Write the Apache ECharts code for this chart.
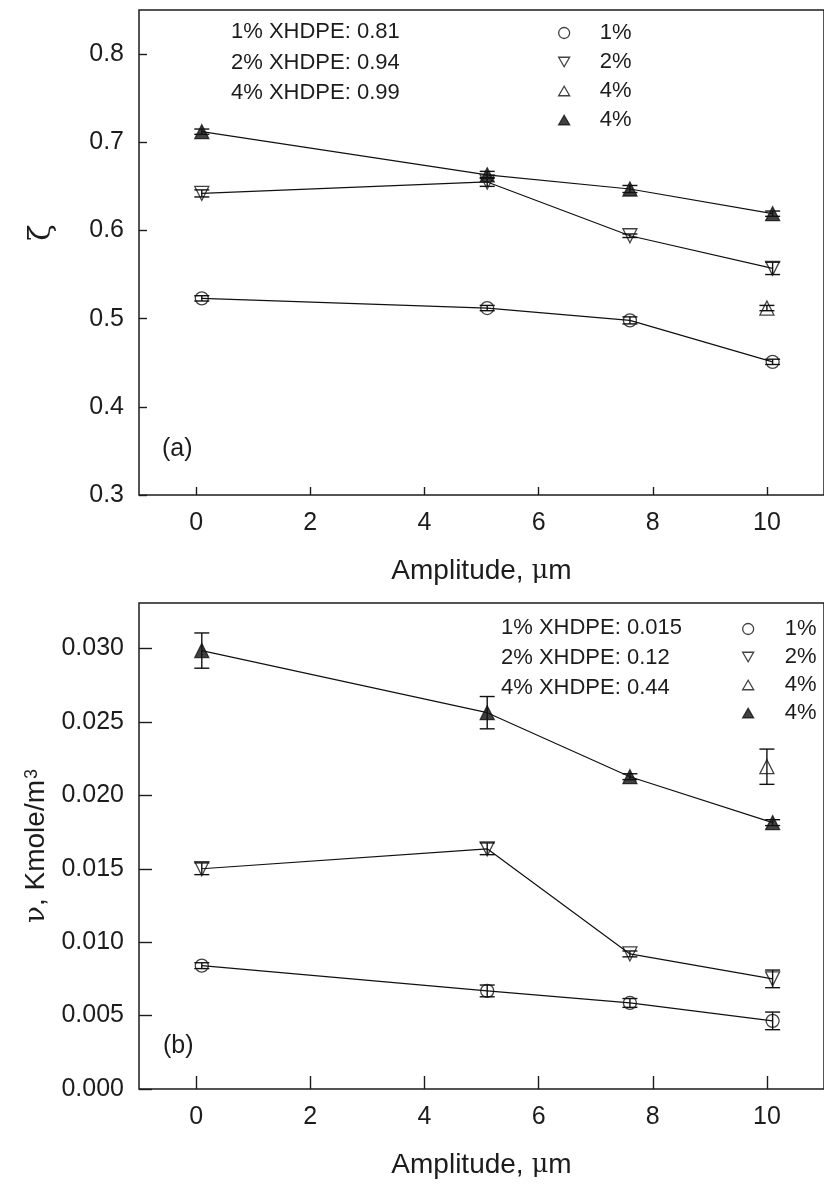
<!DOCTYPE html>
<html>
<head>
<meta charset="utf-8">
<script src="https://cdn.jsdelivr.net/npm/echarts@6/dist/echarts.min.js"></script>
<style>
  html, body { margin: 0; padding: 0; background: #ffffff; }
  #chart { width: 824px; height: 1192px; }
</style>
</head>
<body>
<div id="chart"></div>
<script>
// Vibration amplitude (µm) of the measured points
const amplitude = [0.1, 5.1, 7.6, 10.1];
const amplitudeSingle = [10.0];

// Axis tick values
const xTicks = [0, 2, 4, 6, 8, 10];
const zetaTicks = [0.3, 0.4, 0.5, 0.6, 0.7, 0.8];
const nuTicks = [0.000, 0.005, 0.010, 0.015, 0.020, 0.025, 0.030];

// Panel (a): zeta
const zeta1 = [0.523, 0.512, 0.498, 0.451];
const zeta1Err = [0.003, 0.003, 0.004, 0.003];
const zeta2 = [0.642, 0.655, 0.594, 0.557];
const zeta2Err = [0.004, 0.005, 0.002, 0.007];
const zeta4Open = [0.512];
const zeta4OpenErr = [0.003];
const zeta4Filled = [0.712, 0.663, 0.647, 0.619];
const zeta4FilledErr = [0.003, 0.004, 0.004, 0.003];

// Panel (b): crosslink density nu, Kmole/m3
const nu1 = [0.0084, 0.00668, 0.00586, 0.00464];
const nu1Err = [0.0002, 0.0004, 0.0003, 0.0006];
const nu2 = [0.0150, 0.01636, 0.0092, 0.0075];
const nu2Err = [0.0004, 0.0004, 0.0002, 0.0006];
const nu4Open = [0.02195];
const nu4OpenErr = [0.0012];
const nu4Filled = [0.02986, 0.02563, 0.02127, 0.01814];
const nu4FilledErr = [0.0012, 0.0011, 0.0002, 0.0002];

// Annotation text
const zetaNotes = ['1% XHDPE: 0.81', '2% XHDPE: 0.94', '4% XHDPE: 0.99'];
const nuNotes = ['1% XHDPE: 0.015', '2% XHDPE: 0.12', '4% XHDPE: 0.44'];
const legendKeys = ['c1', 'c2', 'c4o', 'c4f'];
const legendLabels = { c1: '1%', c2: '2%', c4o: '4%', c4f: '4%' };

const FONT = '"Liberation Sans", Arial, Helvetica, sans-serif';
const GREEK = '"DejaVu Serif", "Liberation Serif", serif';
const INK = '#1c1c1c';

// legend glyphs: open circle, open down-triangle, open up-triangle, filled up-triangle
const DOWN_TRI = 'path://M0,0 L10,0 L5,8.66 Z';
const UP_TRI = 'path://M5,0 L10,8.66 L0,8.66 Z';
const legendIcons = { c1: 'circle', c2: DOWN_TRI, c4o: UP_TRI, c4f: UP_TRI };
const legendFill = { c1: false, c2: false, c4o: false, c4f: true };

function pairs(xs, ys) { return xs.map((x, i) => [x, ys[i]]); }
function bars(xs, ys, es) { return xs.map((x, i) => [x, ys[i] - es[i], ys[i] + es[i]]); }

function errorBarSeries(xi, data) {
  return {
    type: 'custom', xAxisIndex: xi, yAxisIndex: xi, silent: true, z: 4,
    encode: { x: 0, y: [1, 2] },
    data: data,
    renderItem: function (params, api) {
      const x = api.value(0);
      const lo = api.coord([x, api.value(1)]);
      const hi = api.coord([x, api.value(2)]);
      const w = 7.5;
      const st = { stroke: '#111', lineWidth: 1.4 };
      return {
        type: 'group',
        children: [
          { type: 'line', shape: { x1: lo[0], y1: lo[1], x2: hi[0], y2: hi[1] }, style: st },
          { type: 'line', shape: { x1: lo[0] - w, y1: lo[1], x2: lo[0] + w, y2: lo[1] }, style: st },
          { type: 'line', shape: { x1: hi[0] - w, y1: hi[1], x2: hi[0] + w, y2: hi[1] }, style: st }
        ]
      };
    }
  };
}

function lineSeries(xi, data) {
  return {
    type: 'line', xAxisIndex: xi, yAxisIndex: xi, data: data, symbol: 'none',
    lineStyle: { color: '#111', width: 1.2 }, silent: true, z: 2
  };
}

function markerSeries(xi, name, data, symbol, rotate, filled) {
  return {
    type: 'scatter', name: name, xAxisIndex: xi, yAxisIndex: xi, data: data,
    symbol: symbol, symbolSize: symbol === 'circle' ? 13 : 14, symbolRotate: rotate,
    itemStyle: {
      color: filled ? '#111' : 'rgba(255,255,255,0)',
      borderColor: '#111', borderWidth: 1.3
    },
    z: 5
  };
}

function legendFor(prefix, left, top, gap, pad) {
  return {
    data: legendKeys.map(k => ({
      name: prefix + k,
      icon: legendIcons[k],
      itemStyle: { color: legendFill[k] ? '#111' : '#ffffff', borderColor: '#111', borderWidth: 1.3 }
    })),
    formatter: n => legendLabels[n.slice(prefix.length)],
    orient: 'vertical', left: left, top: top, itemWidth: 11, itemHeight: 11, itemGap: gap,
    selectedMode: false,
    textStyle: { fontFamily: FONT, fontSize: 22, color: INK, lineHeight: 22, padding: [0, 0, 0, pad] }
  };
}

function xAxisFor(gi) {
  return {
    type: 'value', gridIndex: gi, min: -1, max: 11,
    name: 'Amplitude, {g|μ}m', nameLocation: 'middle', nameGap: 62,
    nameTextStyle: { fontFamily: FONT, fontSize: 28, color: INK,
      rich: { g: { fontFamily: GREEK, fontSize: 26, color: INK } } },
    axisLine: { show: false, onZero: false },
    axisTick: { show: true, inside: true, length: gi === 0 ? 8 : 13, customValues: xTicks,
      lineStyle: { color: INK, width: 1.4 } },
    axisLabel: { customValues: xTicks, fontFamily: FONT, fontSize: 25, color: INK, margin: 16 },
    splitLine: { show: false }
  };
}

const option = {
  animation: false,
  backgroundColor: '#ffffff',
  grid: [
    { left: 139, top: 10, width: 693, height: 485, show: true, borderColor: INK, borderWidth: 1.5 },
    { left: 139, top: 603, width: 693, height: 486, show: true, borderColor: INK, borderWidth: 1.5 }
  ],
  xAxis: [xAxisFor(0), xAxisFor(1)],
  yAxis: [
    {
      type: 'value', gridIndex: 0, min: 0.3, max: 0.85,
      name: 'ζ', nameLocation: 'middle', nameGap: 82,
      nameTextStyle: { fontFamily: GREEK, fontSize: 30, color: INK, padding: [0, 0, 0, 40] },
      axisLine: { show: false, onZero: false },
      axisTick: { show: true, inside: true, length: 8, customValues: zetaTicks,
        lineStyle: { color: INK, width: 1.4 } },
      axisLabel: { customValues: zetaTicks, fontFamily: FONT, fontSize: 25, color: INK, margin: 15,
        formatter: v => v.toFixed(1) },
      splitLine: { show: false }
    },
    {
      type: 'value', gridIndex: 1, min: 0, max: 0.0331,
      name: '{g|ν}, Kmole/m{sup|3}', nameLocation: 'middle', nameGap: 84,
      nameTextStyle: { fontFamily: FONT, fontSize: 28, color: INK,
        rich: {
          g: { fontFamily: GREEK, fontSize: 28, color: INK },
          sup: { fontFamily: FONT, fontSize: 18, color: INK, verticalAlign: 'top', padding: [0, 0, 10, 1] }
        } },
      axisLine: { show: false, onZero: false },
      axisTick: { show: true, inside: true, length: 13, customValues: nuTicks,
        lineStyle: { color: INK, width: 1.4 } },
      axisLabel: { customValues: nuTicks, fontFamily: FONT, fontSize: 25, color: INK, margin: 15,
        formatter: v => v.toFixed(3) },
      splitLine: { show: false }
    }
  ],
  legend: [
    legendFor('a-', 553, 17, 7, 25),
    legendFor('b-', 737, 613, 6, 26)
  ],
  graphic: [
    { type: 'text', left: 231, top: 17,
      style: { text: zetaNotes.join('\n'), font: '22px ' + FONT, fill: INK, lineHeight: 30.5 } },
    { type: 'text', left: 501, top: 613,
      style: { text: nuNotes.join('\n'), font: '22px ' + FONT, fill: INK, lineHeight: 30 } },
    { type: 'text', left: 162, top: 437, style: { text: '(a)', font: '25px ' + FONT, fill: INK } },
    { type: 'text', left: 163, top: 1034, style: { text: '(b)', font: '25px ' + FONT, fill: INK } }
  ],
  series: [
    // panel (a)
    lineSeries(0, pairs(amplitude, zeta1)),
    lineSeries(0, pairs(amplitude, zeta2)),
    lineSeries(0, pairs(amplitude, zeta4Filled)),
    errorBarSeries(0, bars(amplitude, zeta1, zeta1Err)),
    errorBarSeries(0, bars(amplitude, zeta2, zeta2Err)),
    errorBarSeries(0, bars(amplitudeSingle, zeta4Open, zeta4OpenErr)),
    errorBarSeries(0, bars(amplitude, zeta4Filled, zeta4FilledErr)),
    markerSeries(0, 'a-c1', pairs(amplitude, zeta1), 'circle', 0, false),
    markerSeries(0, 'a-c2', pairs(amplitude, zeta2), 'triangle', 180, false),
    markerSeries(0, 'a-c4o', pairs(amplitudeSingle, zeta4Open), 'triangle', 0, false),
    markerSeries(0, 'a-c4f', pairs(amplitude, zeta4Filled), 'triangle', 0, true),
    // panel (b)
    lineSeries(1, pairs(amplitude, nu1)),
    lineSeries(1, pairs(amplitude, nu2)),
    lineSeries(1, pairs(amplitude, nu4Filled)),
    errorBarSeries(1, bars(amplitude, nu1, nu1Err)),
    errorBarSeries(1, bars(amplitude, nu2, nu2Err)),
    errorBarSeries(1, bars(amplitudeSingle, nu4Open, nu4OpenErr)),
    errorBarSeries(1, bars(amplitude, nu4Filled, nu4FilledErr)),
    markerSeries(1, 'b-c1', pairs(amplitude, nu1), 'circle', 0, false),
    markerSeries(1, 'b-c2', pairs(amplitude, nu2), 'triangle', 180, false),
    markerSeries(1, 'b-c4o', pairs(amplitudeSingle, nu4Open), 'triangle', 0, false),
    markerSeries(1, 'b-c4f', pairs(amplitude, nu4Filled), 'triangle', 0, true)
  ]
};

const chart = echarts.init(document.getElementById('chart'), null, { renderer: 'canvas' });
chart.setOption(option);
</script>
</body>
</html>
